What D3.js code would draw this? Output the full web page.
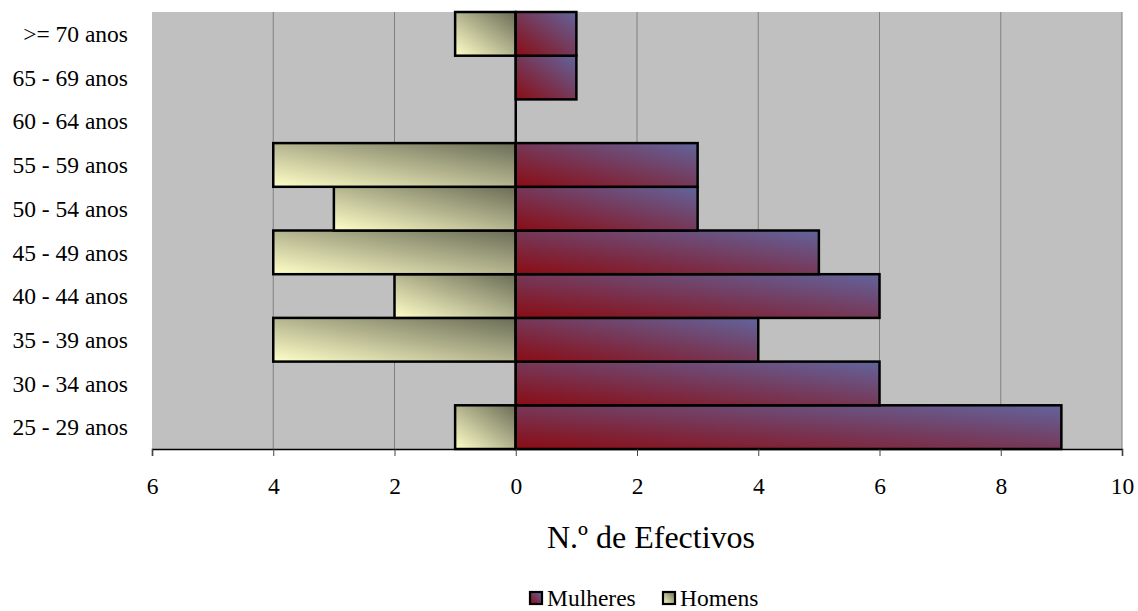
<!DOCTYPE html>
<html>
<head>
<meta charset="utf-8">
<script src="https://cdn.jsdelivr.net/npm/d3@7"></script>
<style>
  body { margin: 0; background: #fff; }
  svg { display: block; }
</style>
</head>
<body>
<svg id="chart" width="1138" height="611"></svg>
<script>
// Age groups, from youngest (bottom) to oldest (top)
const categories = ["25 - 29 anos", "30 - 34 anos", "35 - 39 anos", "40 - 44 anos", "45 - 49 anos",
                    "50 - 54 anos", "55 - 59 anos", "60 - 64 anos", "65 - 69 anos", ">= 70 anos"];
const mulheres = [9, 6, 4, 6, 5, 3, 3, 0, 1, 1];
const homens   = [1, 0, 4, 2, 4, 3, 4, 0, 0, 1];
const tickValues = [-6, -4, -2, 0, 2, 4, 6, 8, 10];
const seriesNames = ["Mulheres", "Homens"];

const FONT = "'Liberation Serif', 'Times New Roman', serif";
const svg = d3.select("#chart");
const plot = { left: 152, right: 1122, top: 12, bottom: 449 };

const x = d3.scaleLinear().domain([-6, 10]).range([plot.left, plot.right]);
const y = d3.scaleBand().domain(categories.slice().reverse()).range([plot.top, plot.bottom]).padding(0);

// Diagonal gradients (bottom-left to top-right of each bar)
const defs = svg.append("defs");
function grad(id, c0, c1) {
  const g = defs.append("linearGradient").attr("id", id)
    .attr("x1", 0).attr("y1", 1).attr("x2", 1).attr("y2", 0);
  g.append("stop").attr("offset", "0%").attr("stop-color", c0);
  g.append("stop").attr("offset", "100%").attr("stop-color", c1);
}
grad("gM", "#8a0c14", "#62649c");
grad("gH", "#ffffc8", "#6a6c56");

// Plot background
svg.append("rect")
  .attr("x", plot.left).attr("y", plot.top)
  .attr("width", plot.right - plot.left).attr("height", plot.bottom - plot.top)
  .attr("fill", "#c0c0c0");

// Vertical gridlines
svg.append("g").selectAll("line")
  .data(tickValues.filter(d => d !== -6))
  .join("line")
  .attr("x1", d => x(d)).attr("x2", d => x(d))
  .attr("y1", plot.top).attr("y2", plot.bottom)
  .attr("stroke", "#808080").attr("stroke-width", 1);

// Bars: women to the right, men to the left
const data = categories.map((c, i) => ({ cat: c, m: mulheres[i], h: homens[i] }));

svg.append("g").selectAll("rect")
  .data(data.filter(d => d.h > 0))
  .join("rect")
  .attr("x", d => x(-d.h)).attr("y", d => y(d.cat))
  .attr("width", d => x(0) - x(-d.h)).attr("height", y.bandwidth())
  .attr("fill", "url(#gH)").attr("stroke", "#000").attr("stroke-width", 2.5);

svg.append("g").selectAll("rect")
  .data(data.filter(d => d.m > 0))
  .join("rect")
  .attr("x", x(0)).attr("y", d => y(d.cat))
  .attr("width", d => x(d.m) - x(0)).attr("height", y.bandwidth())
  .attr("fill", "url(#gM)").attr("stroke", "#000").attr("stroke-width", 2.5);

// Zero line
svg.append("line")
  .attr("x1", x(0)).attr("x2", x(0))
  .attr("y1", plot.top).attr("y2", plot.bottom)
  .attr("stroke", "#000").attr("stroke-width", 2.5);

// Category labels
svg.append("g").selectAll("text")
  .data(categories)
  .join("text")
  .attr("x", 128).attr("y", d => y(d) + y.bandwidth() / 2)
  .attr("dy", "0.35em")
  .attr("text-anchor", "end")
  .style("font-family", FONT).style("font-size", "23.5px")
  .attr("fill", "#000")
  .text(d => d);

// X axis
const xAxis = d3.axisBottom(x).tickValues(tickValues)
  .tickFormat(d => Math.abs(d)).tickSize(7);
const ax = svg.append("g").attr("transform", `translate(0,${plot.bottom})`).call(xAxis);
ax.select(".domain").attr("stroke", "#000").attr("stroke-width", 1.5);
ax.selectAll(".tick line").attr("stroke", "#444");
ax.selectAll(".tick text")
  .attr("y", 37).attr("dy", "0.35em")
  .style("font-family", FONT).style("font-size", "23.5px")
  .attr("fill", "#000");

// Axis title
svg.append("text")
  .attr("x", 651).attr("y", 537).attr("dy", "0.35em")
  .attr("text-anchor", "middle")
  .style("font-family", FONT).style("font-size", "32px")
  .attr("fill", "#000")
  .text("N.º de Efectivos");

// Legend
const legend = svg.append("g").attr("transform", "translate(0,598)");
const legendItems = [
  { name: seriesNames[0], fill: "url(#gM)", x: 530 },
  { name: seriesNames[1], fill: "url(#gH)", x: 663 }
];
legendItems.forEach(it => {
  legend.append("rect").attr("x", it.x).attr("y", -6).attr("width", 12).attr("height", 12)
    .attr("fill", it.fill).attr("stroke", "#000").attr("stroke-width", 2.2);
  legend.append("text").attr("x", it.x + 17).attr("y", 0).attr("dy", "0.35em")
    .style("font-family", FONT).style("font-size", "23.5px")
    .attr("fill", "#000")
    .text(it.name);
});
</script>
</body>
</html>
